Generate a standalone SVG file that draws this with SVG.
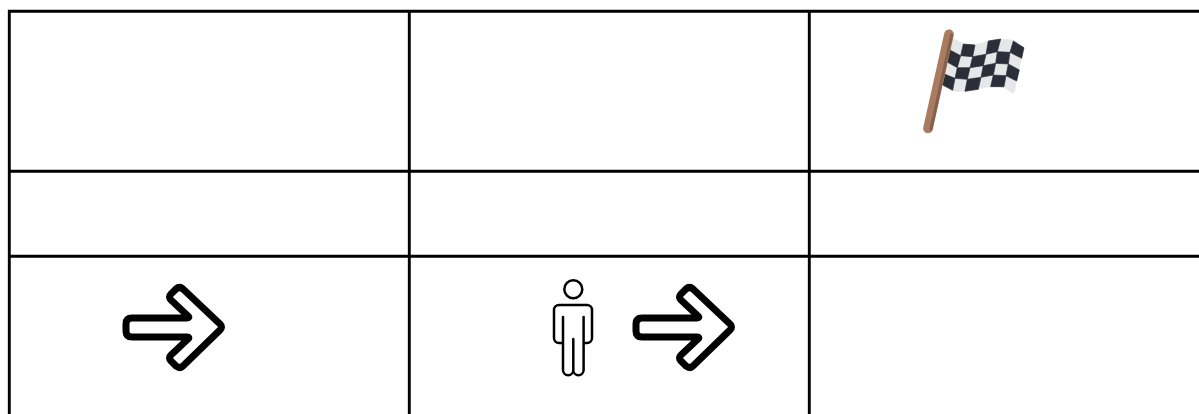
<svg xmlns="http://www.w3.org/2000/svg" width="1199" height="414" viewBox="0 0 1199 414">
<style>
.grid{stroke:#000;stroke-width:2.9;fill:none}
.arrow{stroke:#000;stroke-width:7;fill:#fff;stroke-linejoin:round}
.person{stroke:#000;stroke-width:2.5;fill:none;stroke-linecap:round;stroke-linejoin:round}
.dark{fill:#2b2e39;stroke:#2b2e39;stroke-width:2;stroke-linejoin:round}
</style>
<defs>
<path id="arrow-shape" class="arrow" d="M642 318H697Q700 318 698 316L681 300Q678 297 681 294L686 289Q689.500 286 693 289L730 324Q733 327 730 330L693 366Q690 369 686 366L681 361Q678 358 681 355L698 339Q700 337 697 337H642Q636 337 636 331V324Q636 318 642 318Z"/>
</defs>
<rect width="1199" height="414" fill="#fff"/>
<g id="grid">
<path class="grid" d="M9.300 414V11.300H1199M409.300 11V414M809.300 11V414M9 171.300H1199M9 256.300H1199"/>
</g>
<g id="flag" transform="translate(900 15) scale(.3333)">
<path fill="#e6e7e9" d="M155 68Q175 78 195 87Q225 92 262 78Q300 68 340 75L372 98L358 165L345 225Q342 238 335 234Q320 215 280 215Q240 218 195 229Q170 232 155 228L128 210Z"/>
<path class="dark" d="M190 87L225 90L218 125L182 122ZM265 78L302 72L292 110L258 118ZM340 78L372 98L365 130L330 112ZM150 105L182 122L172 158L140 140ZM218 125L258 118L250 152L210 158ZM292 110L330 112L325 147L287 145ZM172 158L210 158L202 193L165 190ZM250 152L287 145L280 180L243 187ZM325 147L358 165L350 198L318 182ZM135 178L165 190L158 226L128 210ZM202 193L243 187L235 223L195 229ZM280 180L318 182L312 215L272 215Z"/>
<path stroke="#a97c60" stroke-width="29" stroke-linecap="round" d="M147 58L84 340"/>
<path stroke="#85604d" stroke-width="9" stroke-linecap="round" d="M155 60L93 343"/>
</g>
<g id="arrow-left">
<use href="#arrow-shape" x="-510"/>
</g>
<g id="person">
<circle class="person" cx="573.300" cy="289.300" r="9"/>
<path class="person" d="M563 317V370A5 5 0 0 0 573.300 370V339V370A5 5 0 0 0 583.600 370V317M584 343H587A5 5 0 0 0 592 338V310A5 5 0 0 0 587 305H559A5 5 0 0 0 554 310V338A5 5 0 0 0 559 343H562"/>
</g>
<g id="arrow-right">
<use href="#arrow-shape"/>
</g>
<g id="connectors"/>
</svg>
